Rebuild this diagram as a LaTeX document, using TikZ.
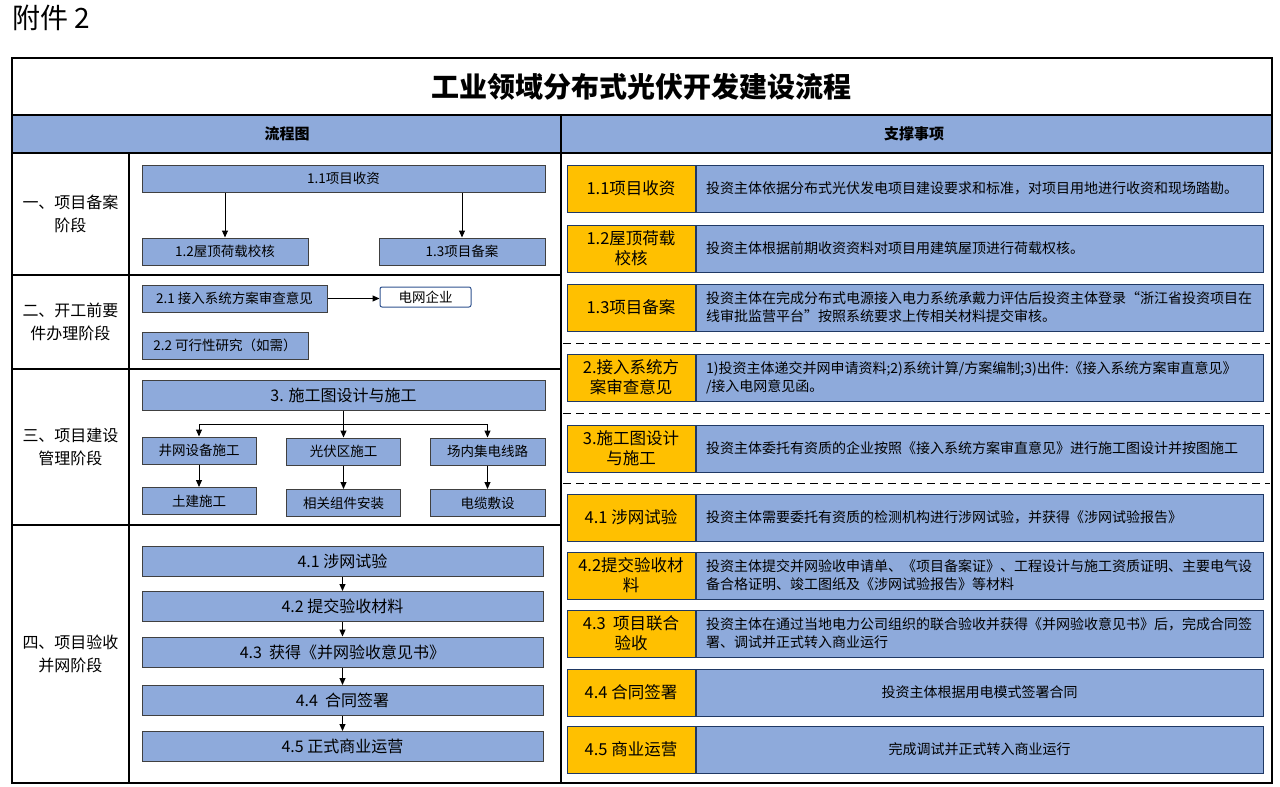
\documentclass[tikz,border=0pt]{standalone}
\usepackage{fontspec}
\setmainfont{Noto Sans CJK SC}
\usepackage{tikz}
\usetikzlibrary{arrows.meta,positioning}

\definecolor{cellblue}{HTML}{8EAADB}
\definecolor{tagorange}{HTML}{FFC000}
\definecolor{navy}{HTML}{1F3864}
\definecolor{gridnavy}{HTML}{2F528F}

\tikzset{
  flowbox/.style={draw=black!75, line width=1pt, fill=cellblue, inner sep=0pt,
    font=\fontsize{13.5}{16}\selectfont},
  bigflow/.style={flowbox, minimum width=401pt, minimum height=30pt,
    font=\fontsize{16}{19}\selectfont},
  tagbox/.style={draw=navy, line width=1pt, fill=tagorange, minimum width=128pt,
    minimum height=47pt, inner sep=0pt, align=center, font=\fontsize{16.5}{20}\selectfont},
  notebox/.style={draw=navy, line width=1pt, fill=cellblue, minimum width=567pt,
    minimum height=47pt, inner xsep=10pt, inner ysep=0pt, text width=547pt, align=left,
    font=\fontsize{14}{18}\selectfont},
  stagelabel/.style={align=center, font=\fontsize{16}{23}\selectfont},
  arr/.style={line width=1pt, -{Triangle[length=7pt,width=6pt]}}
}

\begin{document}
\begin{tikzpicture}[x=1pt,y=-1pt]
  \useasboundingbox (0,0) rectangle (1280,787);

  \node[anchor=west, inner sep=0pt, font=\fontsize{28}{32}\selectfont] (annex) at (12,18) {附件 2};

  % table frame
  \fill[cellblue] (12,115) rectangle (1272,153);
  \draw[line width=1.2pt] (12,58) rectangle (1272,783);
  \draw[line width=1.2pt] (12,115) -- (1272,115);
  \draw[line width=1.2pt] (12,153) -- (1272,153);
  \draw[line width=1.2pt] (561,115) -- (561,783);
  \draw[line width=1.2pt] (129,153) -- (129,783);
  \draw[line width=1.2pt] (12,275) -- (561,275);
  \draw[line width=1.2pt] (12,369) -- (561,369);
  \draw[line width=1.2pt] (12,525) -- (561,525);

  \node[font=\fontsize{28}{32}\selectfont\bfseries] (title) at (641,87) {工业领域分布式光伏开发建设流程};
  \node[font=\fontsize{15}{18}\selectfont\bfseries] (headL) at (287,134) {流程图};
  \node[font=\fontsize{15}{18}\selectfont\bfseries] (headR) at (914,134) {支撑事项};

  % stage labels
  \node[stagelabel] (stage1) at (70.5,214) {一、项目备案\\阶段};
  \node[stagelabel] (stage2) at (70.5,322) {二、开工前要\\件办理阶段};
  \node[stagelabel] (stage3) at (70.5,447) {三、项目建设\\管理阶段};
  \node[stagelabel] (stage4) at (70.5,654) {四、项目验收\\并网阶段};

  % stage 1
  \node[flowbox, minimum width=403pt, minimum height=27pt] (s11) at (343.5,178.5) {1.1项目收资};
  \node[flowbox, minimum width=166pt, minimum height=27pt] (s12) at (225,251.5) {1.2屋顶荷载校核};
  \node[flowbox, minimum width=166pt, minimum height=27pt] (s13) at (462,251.5) {1.3项目备案};
  \draw[arr] (s11.south -| s12) -- (s12.north);
  \draw[arr] (s11.south -| s13) -- (s13.north);

  % stage 2
  \node[flowbox, minimum width=185pt, minimum height=27pt] (s21) at (234.5,298.5) {2.1 接入系统方案审查意见};
  \node[draw=gridnavy, line width=1pt, rounded corners=2pt, fill=white, minimum width=91pt,
    minimum height=20pt, inner sep=0pt, font=\fontsize{13.5}{16}\selectfont] (grid) at (425.5,297) {电网企业};
  \draw[arr] (s21.east) -- (s21.east -| grid.west);
  \node[flowbox, minimum width=166pt, minimum height=27pt] (s22) at (225,345.5) {2.2 可行性研究（如需）};

  % stage 3
  \node[bigflow, minimum width=403pt] (s3) at (343.5,395) {3. 施工图设计与施工};
  \node[flowbox, minimum width=114pt, minimum height=27pt] (s3a) at (199,450.5) {井网设备施工};
  \node[flowbox, minimum width=114pt, minimum height=27pt] (s3b) at (343.5,451.5) {光伏区施工};
  \node[flowbox, minimum width=115pt, minimum height=27pt] (s3c) at (487.5,451.5) {场内集电线路};
  \node[flowbox, minimum width=114pt, minimum height=27pt] (s3d) at (199,501) {土建施工};
  \node[flowbox, minimum width=114pt, minimum height=27pt] (s3e) at (343.5,503) {相关组件安装};
  \node[flowbox, minimum width=115pt, minimum height=27pt] (s3f) at (487.5,503) {电缆敷设};
  \draw[line width=1pt] (s3.south) -- ++(0,14) coordinate (fork);
  \draw[arr] (fork) -| (s3a.north);
  \draw[arr] (fork) -| (s3c.north);
  \draw[arr] (fork) -- (s3b.north);
  \draw[arr] (s3a) -- (s3d);
  \draw[arr] (s3b) -- (s3e);
  \draw[arr] (s3c) -- (s3f);

  % stage 4
  \node[bigflow] (s41) at (342.5,561) {4.1 涉网试验};
  \node[bigflow] (s42) at (342.5,606.5) {4.2 提交验收材料};
  \node[bigflow] (s43) at (342.5,652) {4.3 \ 获得《并网验收意见书》};
  \node[bigflow] (s44) at (342.5,700.5) {4.4 \ 合同签署};
  \node[bigflow] (s45) at (342.5,746.5) {4.5 正式商业运营};
  \draw[arr] (s41) -- (s42);
  \draw[arr] (s42) -- (s43);
  \draw[arr] (s43) -- (s44);
  \draw[arr] (s44) -- (s45);

  % supporting items
  \node[tagbox] (t11) at (631,188.5) {1.1项目收资};
  \node[notebox, right=0pt of t11] (n11) {投资主体依据分布式光伏发电项目建设要求和标准，对项目用地进行收资和现场踏勘。};
  \node[tagbox] (t12) at (631,248.5) {1.2屋顶荷载\\校核};
  \node[notebox, right=0pt of t12] (n12) {投资主体根据前期收资资料对项目用建筑屋顶进行荷载权核。};
  \node[tagbox] (t13) at (631,307.5) {1.3项目备案};
  \node[notebox, right=0pt of t13] (n13) {投资主体在完成分布式电源接入电力系统承戴力评估后投资主体登录“浙江省投资项目在\\线审批监营平台”按照系统要求上传相关材料提交审核。};
  \node[tagbox] (t2) at (631,377.5) {2.接入系统方\\案审查意见};
  \node[notebox, right=0pt of t2] (n2) {1)投资主体递交并网申请资料;2)系统计算/方案编制;3)出件:《接入系统方案审直意见》\\/接入电网意见函。};
  \node[tagbox] (t3) at (631,448.5) {3.施工图设计\\与施工};
  \node[notebox, right=0pt of t3] (n3) {投资主体委托有资质的企业按照《接入系统方案审直意见》进行施工图设计并按图施工};
  \node[tagbox] (t41) at (631,517.5) {4.1 涉网试验};
  \node[notebox, right=0pt of t41] (n41) {投资主体需要委托有资质的检测机构进行涉网试验，并获得《涉网试验报告》};
  \node[tagbox] (t42) at (631,575.5) {4.2提交验收材\\料};
  \node[notebox, right=0pt of t42] (n42) {投资主体提交并网验收申请单、《项目备案证》、工程设计与施工资质证明、主要电气设\\备合格证明、竣工图纸及《涉网试验报告》等材料};
  \node[tagbox] (t43) at (631,633.5) {4.3 \ 项目联合\\验收};
  \node[notebox, right=0pt of t43] (n43) {投资主体在通过当地电力公司组织的联合验收并获得《并网验收意见书》后，完成合同签\\署、调试并正式转入商业运行};
  \node[tagbox] (t44) at (631,692.5) {4.4 合同签署};
  \node[notebox, align=center, right=0pt of t44] (n44) {投资主体根据用电模式签署合同};
  \node[tagbox] (t45) at (631,749.5) {4.5 商业运营};
  \node[notebox, align=center, right=0pt of t45] (n45) {完成调试并正式转入商业运行};

  % dashed separators
  \foreach \yy in {343,413,483}
    \draw[line width=1pt, dash pattern=on 8pt off 5pt] (563,\yy) -- (1270,\yy);
\end{tikzpicture}
\end{document}
